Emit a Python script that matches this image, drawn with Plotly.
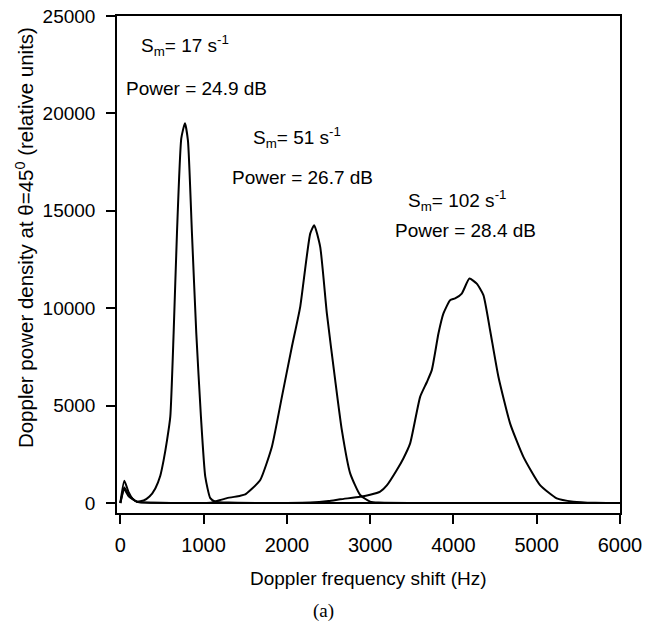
import plotly.graph_objects as go

# Doppler frequency shift (Hz) and power density (relative units) for each shear rate
freq_17 = [0, 48, 100, 150, 200, 280, 350, 420, 480, 520, 560, 600, 640, 680, 732, 776, 812, 860, 912, 968, 1020, 1080, 1140, 1300, 2000, 3000, 4000, 5000, 6000]
dens_17 = [0, 1140, 550, 200, 80, 130, 330, 750, 1400, 2200, 3200, 4430, 8720, 13850, 18720, 19500, 18600, 13850, 8720, 4430, 1350, 250, 70, 20, 0, 0, 0, 0, 0]

freq_51 = [0, 48, 100, 200, 300, 600, 1000, 1100, 1200, 1280, 1440, 1500, 1560, 1680, 1820, 1940, 2060, 2160, 2280, 2328, 2400, 2480, 2580, 2660, 2760, 2880, 3000, 3100, 3500, 6000]
dens_51 = [0, 800, 400, 60, 20, 0, 0, 30, 150, 250, 370, 440, 650, 1180, 2890, 5450, 8020, 10070, 13830, 14260, 13150, 9730, 6310, 3740, 1520, 410, 70, 20, 0, 0]

freq_102 = [0, 48, 100, 200, 400, 1000, 2000, 2280, 2500, 2640, 2880, 3000, 3120, 3200, 3320, 3400, 3480, 3600, 3680, 3740, 3820, 3880, 3960, 4020, 4100, 4192, 4280, 4360, 4440, 4540, 4680, 4840, 5040, 5240, 5440, 5700, 6000]
dens_102 = [0, 700, 350, 60, 10, 0, 0, 20, 100, 190, 320, 420, 580, 900, 1690, 2300, 3060, 5450, 6200, 6820, 8700, 9730, 10410, 10500, 10750, 11520, 11260, 10670, 8870, 6480, 4090, 2370, 920, 240, 70, 10, 0]

x_ticks = [0, 1000, 2000, 3000, 4000, 5000, 6000]
x_tick_text = ["0", "1000", "2000", "3000", "4000", "5000", "6000"]
y_ticks = [0, 5000, 10000, 15000, 20000, 25000]
y_tick_text = ["0", "5000", "10000", "15000", "20000", "25000"]

labels_sm = ["S<sub>m</sub>= 17 s<sup>-1</sup>", "S<sub>m</sub>= 51 s<sup>-1</sup>", "S<sub>m</sub>= 102 s<sup>-1</sup>"]
labels_pw = ["Power = 24.9 dB", "Power = 26.7 dB", "Power = 28.4 dB"]
sm_x = [780, 2124, 4044]
sm_y = [23490, 18770, 15540]
pw_x = [912, 2184, 4140]
pw_y = [21280, 16720, 14000]

FONT = "Liberation Sans, Arial, Helvetica, sans-serif"

fig = go.Figure()
for fx, dy in [(freq_17, dens_17), (freq_51, dens_51), (freq_102, dens_102)]:
    fig.add_trace(go.Scatter(x=fx, y=dy, mode="lines",
                             line=dict(color="black", width=2, shape="spline", smoothing=0.5),
                             showlegend=False, hoverinfo="skip"))

for t, x, y in zip(labels_sm, sm_x, sm_y):
    fig.add_annotation(x=x, y=y, text=t, showarrow=False, xanchor="center", yanchor="middle",
                       font=dict(family=FONT, size=19, color="black"))
for t, x, y in zip(labels_pw, pw_x, pw_y):
    fig.add_annotation(x=x, y=y, text=t, showarrow=False, xanchor="center", yanchor="middle",
                       font=dict(family=FONT, size=19, color="black"))

fig.add_annotation(xref="paper", yref="paper", x=-0.183, y=0.555,
                   xanchor="center", yanchor="middle",
                   text="Doppler power density at θ=45<sup>0</sup> (relative units)",
                   textangle=-90, showarrow=False,
                   font=dict(family=FONT, size=20.5, color="black"))
fig.add_annotation(xref="paper", yref="paper", x=0.5, y=-0.131,
                   xanchor="center", yanchor="middle",
                   text="Doppler frequency shift (Hz)", showarrow=False,
                   font=dict(family=FONT, size=19, color="black"))
fig.add_annotation(xref="paper", yref="paper", x=0.41, y=-0.197,
                   xanchor="center", yanchor="middle",
                   text="(a)", showarrow=False,
                   font=dict(family="Liberation Serif, Times New Roman, serif", size=19, color="black"))

fig.update_xaxes(range=[-40, 6000], tickvals=x_ticks, ticktext=x_tick_text,
                 ticks="outside", ticklen=9,
                 tickwidth=1.5, tickcolor="black", showline=True, linecolor="black",
                 linewidth=1.5, mirror=True, showgrid=False, zeroline=False,
                 automargin=False, ticklabeloverflow="allow", ticklabelstandoff=4,
                 tickfont=dict(family=FONT, size=20, color="black"))
fig.update_yaxes(range=[-513, 25000], tickvals=y_ticks, ticktext=y_tick_text,
                 ticks="outside", ticklen=9,
                 tickwidth=1.5, tickcolor="black", showline=True, linecolor="black",
                 linewidth=1.5, mirror=True, showgrid=False, zeroline=False,
                 automargin=False, ticklabeloverflow="allow", ticklabelstandoff=7,
                 tickfont=dict(family=FONT, size=19, color="black"))

# page body adds an 8px margin, so the figure is offset; size keeps the plot box in place
fig.update_layout(template="none", width=637, height=618,
                  plot_bgcolor="white", paper_bgcolor="white",
                  margin=dict(l=109, r=25, t=8, b=113), showlegend=False)

fig.write_html("out.html")
